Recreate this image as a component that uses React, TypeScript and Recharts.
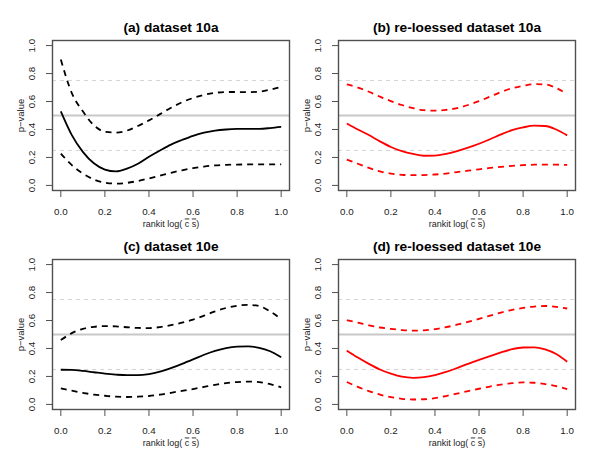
import React from 'react';
import { LineChart, Line, XAxis, YAxis, ReferenceLine } from 'recharts';

const XS = [0, 0.05, 0.1, 0.15, 0.2, 0.25, 0.3, 0.35, 0.4, 0.45, 0.5, 0.55, 0.6, 0.65, 0.7, 0.75, 0.8, 0.85, 0.9, 0.95, 1];

const A_MID = [0.53, 0.36, 0.24, 0.158, 0.113, 0.1, 0.12, 0.155, 0.205, 0.25, 0.292, 0.325, 0.355, 0.377, 0.392, 0.4, 0.404, 0.405, 0.405, 0.41, 0.418];
const A_UP = [0.9, 0.66, 0.53, 0.43, 0.384, 0.378, 0.392, 0.425, 0.465, 0.51, 0.555, 0.595, 0.625, 0.648, 0.662, 0.668, 0.668, 0.667, 0.67, 0.685, 0.705];
const A_LO = [0.228, 0.145, 0.085, 0.042, 0.02, 0.013, 0.018, 0.032, 0.05, 0.07, 0.09, 0.108, 0.123, 0.135, 0.143, 0.147, 0.149, 0.15, 0.15, 0.15, 0.151];

const B_MID = [0.443, 0.4, 0.36, 0.315, 0.275, 0.245, 0.225, 0.212, 0.213, 0.225, 0.245, 0.27, 0.298, 0.33, 0.365, 0.395, 0.415, 0.427, 0.425, 0.4, 0.358];
const B_UP = [0.722, 0.7, 0.67, 0.635, 0.603, 0.575, 0.553, 0.538, 0.535, 0.54, 0.553, 0.575, 0.603, 0.635, 0.668, 0.695, 0.712, 0.724, 0.722, 0.697, 0.652];
const B_LO = [0.185, 0.155, 0.125, 0.1, 0.085, 0.076, 0.073, 0.074, 0.078, 0.085, 0.095, 0.105, 0.115, 0.125, 0.133, 0.14, 0.145, 0.148, 0.149, 0.148, 0.147];

const C_MID = [0.248, 0.247, 0.24, 0.23, 0.22, 0.213, 0.209, 0.209, 0.217, 0.235, 0.26, 0.29, 0.322, 0.355, 0.383, 0.403, 0.413, 0.415, 0.405, 0.38, 0.337];
const C_UP = [0.46, 0.51, 0.54, 0.555, 0.56, 0.558, 0.552, 0.547, 0.546, 0.553, 0.567, 0.585, 0.607, 0.635, 0.665, 0.69, 0.706, 0.712, 0.703, 0.665, 0.61];
const C_LO = [0.115, 0.098, 0.083, 0.07, 0.062, 0.055, 0.053, 0.055, 0.06, 0.07, 0.083, 0.097, 0.11, 0.125, 0.14, 0.152, 0.16, 0.163, 0.16, 0.145, 0.122];

const D_MID = [0.385, 0.335, 0.29, 0.25, 0.22, 0.198, 0.19, 0.195, 0.21, 0.232, 0.26, 0.29, 0.318, 0.345, 0.372, 0.395, 0.407, 0.408, 0.393, 0.36, 0.305];
const D_UP = [0.602, 0.585, 0.566, 0.55, 0.54, 0.532, 0.528, 0.53, 0.538, 0.552, 0.57, 0.59, 0.612, 0.635, 0.657, 0.676, 0.69, 0.7, 0.704, 0.698, 0.686];
const D_LO = [0.16, 0.125, 0.095, 0.07, 0.052, 0.04, 0.035, 0.037, 0.045, 0.06, 0.077, 0.095, 0.112, 0.128, 0.142, 0.152, 0.157, 0.155, 0.145, 0.13, 0.11];

const TICKS = [0, 0.2, 0.4, 0.6, 0.8, 1];
const DOMAIN: [number, number] = [-0.04, 1.04];
const TITLES = ['(a) dataset 10a', '(b) re-loessed dataset 10a', '(c) dataset 10e', '(d) re-loessed dataset 10e'];
const Y_TITLE = 'p\u2212value';

const FONT = '"Liberation Sans", Arial, Helvetica, sans-serif';

function buildData(mid: number[], up: number[], lo: number[]) {
  return XS.map((x, i) => ({ x, mid: mid[i], up: up[i], lo: lo[i] }));
}

const XTick = (p: any) => (
  <text x={p.x} y={p.y + 18.4} textAnchor="middle" fontSize={9.8} fill="#222" fontFamily={FONT}>
    {Number(p.payload.value).toFixed(1)}
  </text>
);

const YTick = (p: any) => {
  const tx = p.x - 11.2;
  return (
    <text x={tx} y={p.y} textAnchor="middle" fontSize={9.8} fill="#222" fontFamily={FONT}
      transform={`rotate(-90, ${tx}, ${p.y})`}>
      {Number(p.payload.value).toFixed(1)}
    </text>
  );
};

type PanelProps = {
  left: number; top: number; boxL: number; boxR: number; boxT: number; boxB: number;
  data: any[]; color: string;
};

const BOX = '#505050';

function Panel({ left, top, boxL, boxR, boxT, boxB, data, color }: PanelProps) {
  const W = 300;
  const H = 232;
  return (
    <div style={{ position: 'absolute', left, top, width: W, height: H }}>
      <LineChart width={W} height={H} data={data}
        margin={{ top: boxT - top, right: left + W - boxR, bottom: 0, left: 0 }}>
        <XAxis dataKey="x" type="number" domain={DOMAIN} ticks={TICKS} allowDataOverflow
          height={top + H - boxB} axisLine={false} tickSize={6} tickMargin={0}
          tickLine={{ stroke: BOX }} tick={XTick} interval={0} />
        <YAxis type="number" domain={DOMAIN} ticks={TICKS} allowDataOverflow
          width={boxL - left} axisLine={false} tickSize={6} tickMargin={0}
          tickLine={{ stroke: BOX }} tick={YTick} interval={0} />
        <ReferenceLine y={0.75} stroke="#d4d4d4" strokeWidth={1} strokeDasharray="4 4" />
        <ReferenceLine y={0.25} stroke="#d4d4d4" strokeWidth={1} strokeDasharray="4 4" />
        <ReferenceLine y={0.5} stroke="#c8c8c8" strokeWidth={2} />
        <Line dataKey="up" type="monotone" stroke={color} strokeWidth={1.8} strokeDasharray="6 5" dot={false} isAnimationActive={false} />
        <Line dataKey="lo" type="monotone" stroke={color} strokeWidth={1.8} strokeDasharray="6 5" dot={false} isAnimationActive={false} />
        <Line dataKey="mid" type="monotone" stroke={color} strokeWidth={1.8} dot={false} isAnimationActive={false} />
      </LineChart>
    </div>
  );
}

function XTitle({ cx, y }: { cx: number; y: number }) {
  return (
    <text x={cx} y={y} textAnchor="middle" fontSize={9} fill="#222" fontFamily={FONT}>
      <tspan>rankit log( </tspan>
      <tspan style={{ textDecoration: 'overline' }}>c</tspan>
      <tspan> </tspan>
      <tspan style={{ textDecoration: 'overline' }}>s</tspan>
      <tspan>)</tspan>
    </text>
  );
}

export default function App() {
  const panels = [
    { left: 0, top: 0, boxL: 52, boxR: 290, boxT: 40, boxB: 191, data: buildData(A_MID, A_UP, A_LO), color: '#000000' },
    { left: 300, top: 0, boxL: 338, boxR: 576, boxT: 40, boxB: 191, data: buildData(B_MID, B_UP, B_LO), color: '#ff0000' },
    { left: 0, top: 232, boxL: 52, boxR: 290, boxT: 259, boxB: 410, data: buildData(C_MID, C_UP, C_LO), color: '#000000' },
    { left: 300, top: 232, boxL: 338, boxR: 576, boxT: 259, boxB: 410, data: buildData(D_MID, D_UP, D_LO), color: '#ff0000' },
  ];
  return (
    <div style={{ position: 'fixed', left: 0, top: 0, width: 600, height: 464, background: '#ffffff' }}>
      {panels.map((p, i) => <Panel key={i} {...p} />)}
      <svg width={600} height={464} viewBox="0 0 600 464"
        style={{ position: 'absolute', left: 0, top: 0, pointerEvents: 'none' }}>
        {panels.map((p, i) => {
          const cx = (p.boxL + p.boxR) / 2;
          const cy = (p.boxT + p.boxB) / 2;
          const yx = p.boxL - 28;
          return (
            <g key={i}>
              <rect x={p.boxL + 0.5} y={p.boxT + 0.5} width={p.boxR - p.boxL - 1} height={p.boxB - p.boxT - 1}
                fill="none" stroke={BOX} strokeWidth={1.4} />
              <text x={cx} y={p.boxT - 7.7} textAnchor="middle" fontSize={13.7} fontWeight="bold" fill="#000" fontFamily={FONT}>
                {TITLES[i]}
              </text>
              <XTitle cx={cx} y={p.boxB + 35.5} />
              <text x={yx} y={cy} textAnchor="middle" fontSize={9.5} fill="#222" fontFamily={FONT}
                transform={`rotate(-90, ${yx}, ${cy})`}>
                {Y_TITLE}
              </text>
            </g>
          );
        })}
      </svg>
    </div>
  );
}
